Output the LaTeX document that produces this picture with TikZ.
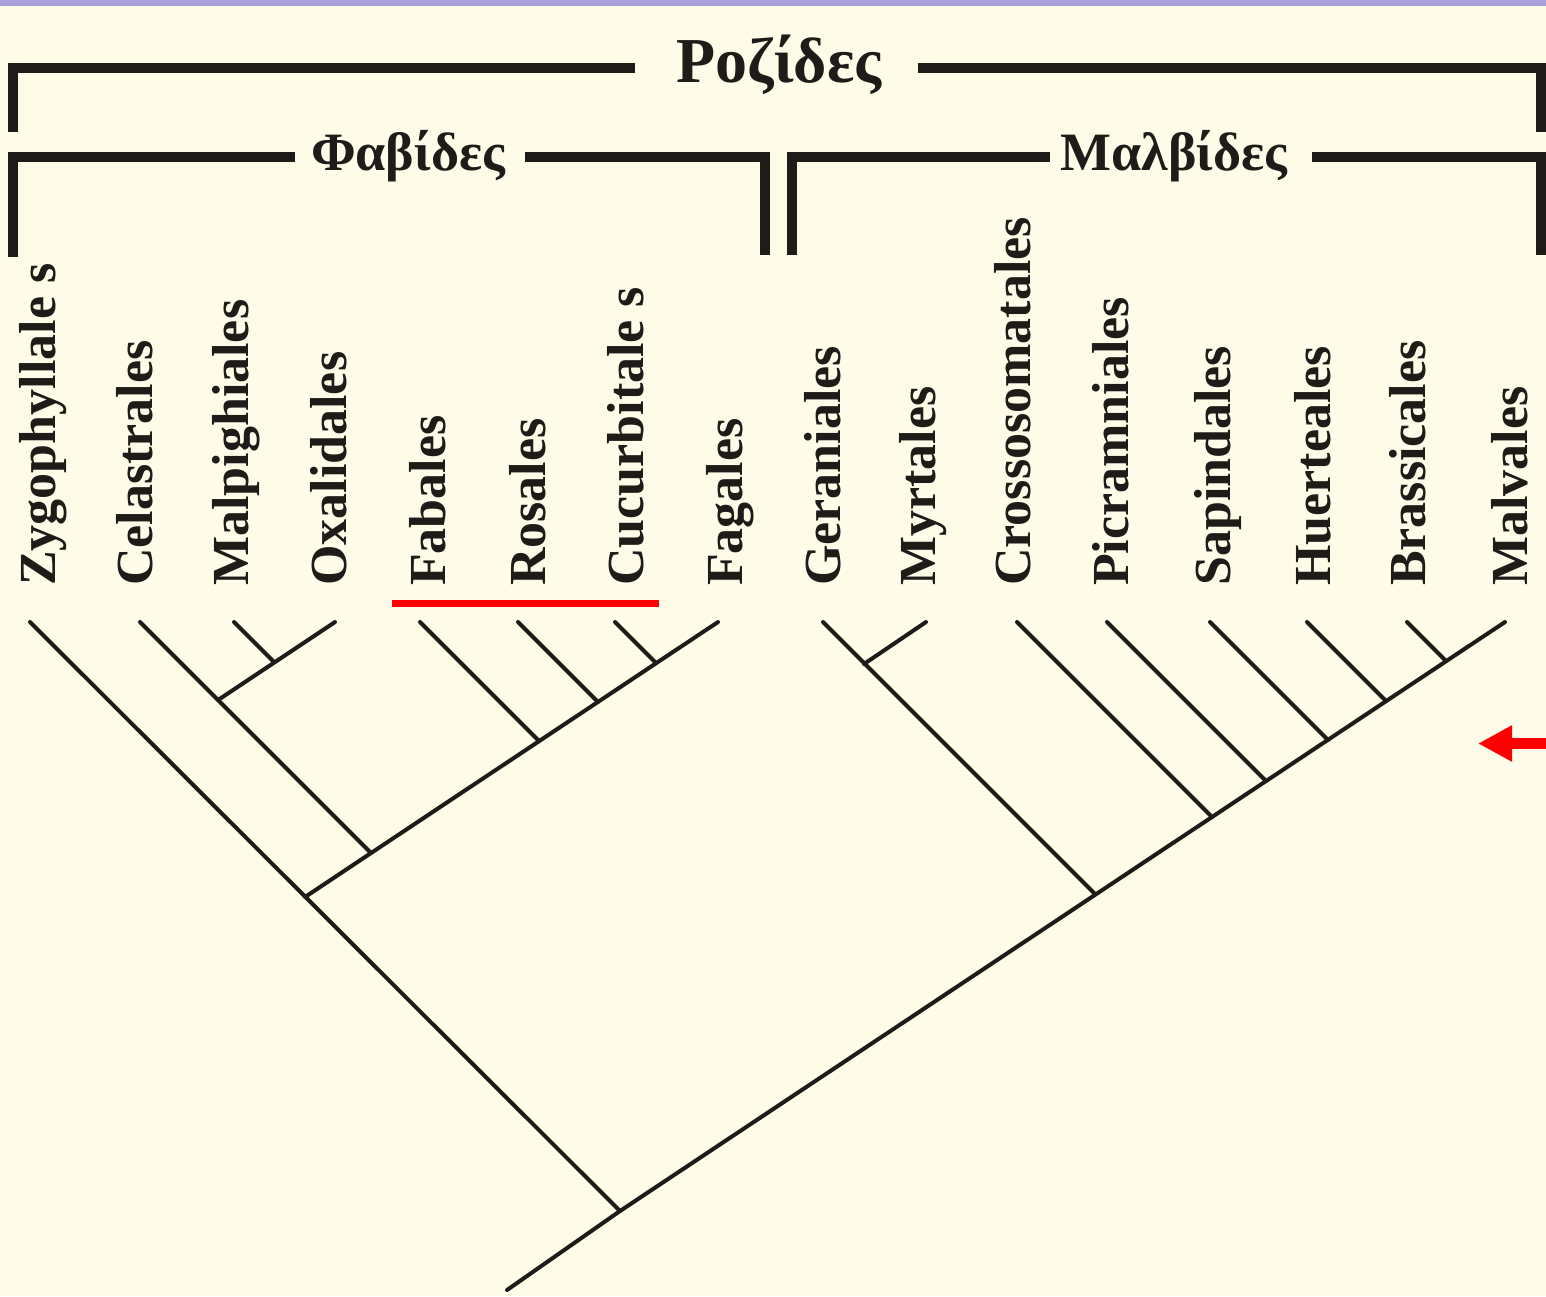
\documentclass[tikz,border=0pt]{standalone}
\usepackage{fontspec}
\setmainfont{Liberation Serif}
\usetikzlibrary{arrows.meta}
\definecolor{bgc}{RGB}{254,251,233}
\definecolor{purp}{RGB}{169,160,219}
\definecolor{ink}{RGB}{30,27,24}
\definecolor{redc}{RGB}{255,0,0}
\begin{document}
\begin{tikzpicture}[x=1pt,y=-1pt,
  branch/.style={draw=ink,line width=4pt,line cap=round},
  brk/.style={draw=ink,line width=10pt,line join=miter},
  lbl/.style={font=\bfseries\fontsize{52}{60}\selectfont,text=ink,inner sep=0pt,anchor=base west,rotate=90},
  hdr/.style={font=\bfseries\fontsize{54}{60}\selectfont,text=ink,inner sep=0pt,anchor=base},
  bighdr/.style={font=\bfseries\fontsize{64}{70}\selectfont,text=ink,inner sep=0pt,anchor=base},
  redline/.style={draw=redc,line width=7pt},
  redarrow/.style={draw=redc,line width=11pt,-{Triangle[length=34pt,width=34pt]}}
]
% background
\fill[bgc] (0,0) rectangle (1546,1296);
\fill[purp] (0,0) rectangle (1546,6);
\useasboundingbox (0,0) rectangle (1546,1296);

% headers
\node[bighdr] (roz) at (779,82) {Ροζίδες};
\node[hdr] (fab) at (408,170) {Φαβίδες};
\node[hdr] (mal) at (1174,170) {Μαλβίδες};

% brackets
\coordinate (rA) at (12.5,132);
\coordinate (rB) at (12.5,67.5);
\coordinate (rC) at (635,67.5);
\coordinate (rD) at (918,67.5);
\coordinate (rE) at (1541,67.5);
\coordinate (rF) at (1541,132);
\draw[brk] (rA) -- (rB) -- (rC);
\draw[brk] (rD) -- (rE) -- (rF);

\coordinate (fA) at (12.5,257);
\coordinate (fB) at (12.5,156.5);
\coordinate (fC) at (295,156.5);
\coordinate (fD) at (525,156.5);
\coordinate (fE) at (765,156.5);
\coordinate (fF) at (765,255);
\draw[brk] (fA) -- (fB) -- (fC);
\draw[brk] (fD) -- (fE) -- (fF);

\coordinate (mA) at (792,255);
\coordinate (mB) at (792,156.5);
\coordinate (mC) at (1050,156.5);
\coordinate (mD) at (1312,156.5);
\coordinate (mE) at (1541,156.5);
\coordinate (mF) at (1541,255);
\draw[brk] (mA) -- (mB) -- (mC);
\draw[brk] (mD) -- (mE) -- (mF);

% labels
\node[lbl] (lzy) at (55,586) {Zygophyllale s};
\node[lbl] (lce) at (152,586) {Celastrales};
\node[lbl] (lma) at (248,586) {Malpighiales};
\node[lbl] (lox) at (346,586) {Oxalidales};
\node[lbl] (lfb) at (445,586) {Fabales};
\node[lbl] (lro) at (545,586) {Rosales};
\node[lbl] (lcu) at (643,586) {Cucurbitale s};
\node[lbl] (lfg) at (742,586) {Fagales};
\node[lbl] (lge) at (840,586) {Geraniales};
\node[lbl] (lmy) at (935,586) {Myrtales};
\node[lbl] (lcr) at (1030,586) {Crossosomatales};
\node[lbl] (lpi) at (1128,586) {Picramniales};
\node[lbl] (lsa) at (1230,586) {Sapindales};
\node[lbl] (lhu) at (1330,586) {Huerteales};
\node[lbl] (lbr) at (1425,586) {Brassicales};
\node[lbl] (lmv) at (1527,586) {Malvales};

% tips
\coordinate (tzy) at (30,622);
\coordinate (tce) at (140,622);
\coordinate (tma) at (234,622);
\coordinate (tox) at (335,622);
\coordinate (tfb) at (420,622);
\coordinate (tro) at (518,622);
\coordinate (tcu) at (615,622);
\coordinate (tfg) at (718,622);
\coordinate (tge) at (823,622);
\coordinate (tmy) at (926,622);
\coordinate (tcr) at (1017,622);
\coordinate (tpi) at (1107,622);
\coordinate (tsa) at (1210,622);
\coordinate (thu) at (1307,622);
\coordinate (tbr) at (1407,622);
\coordinate (tmv) at (1505,622);

% inner nodes
\coordinate (root) at (620,1211);
\coordinate (stem) at (507,1290);
\coordinate (nfab) at (305,897);
\coordinate (ncom) at (371,853);
\coordinate (nmo) at (218,700);
\coordinate (nmaox) at (274,662);
\coordinate (nfb) at (539,741);
\coordinate (nro) at (598,702);
\coordinate (ncu) at (656,663);
\coordinate (nge) at (1095,894);
\coordinate (nmy) at (864,664);
\coordinate (ncr) at (1212,817);
\coordinate (npi) at (1266,781);
\coordinate (nsa) at (1328,740);
\coordinate (nhu) at (1386,701);
\coordinate (nbr) at (1446,661);

% tree
\draw[branch] (tzy) -- (root);
\draw[branch] (stem) -- (root) -- (tmv);
\draw[branch] (nfab) -- (tfg);
\draw[branch] (tce) -- (ncom);
\draw[branch] (tox) -- (nmo);
\draw[branch] (tma) -- (nmaox);
\draw[branch] (tfb) -- (nfb);
\draw[branch] (tro) -- (nro);
\draw[branch] (tcu) -- (ncu);
\draw[branch] (tge) -- (nge);
\draw[branch] (tmy) -- (nmy);
\draw[branch] (tcr) -- (ncr);
\draw[branch] (tpi) -- (npi);
\draw[branch] (tsa) -- (nsa);
\draw[branch] (thu) -- (nhu);
\draw[branch] (tbr) -- (nbr);

% red marks
\coordinate (ul1) at (392,603);
\coordinate (ul2) at (659,603);
\draw[redline] (ul1) -- (ul2);
\coordinate (arS) at (1546,743.5);
\coordinate (arT) at (1478,743.5);
\draw[redarrow] (arS) -- (arT);
\end{tikzpicture}
\end{document}
